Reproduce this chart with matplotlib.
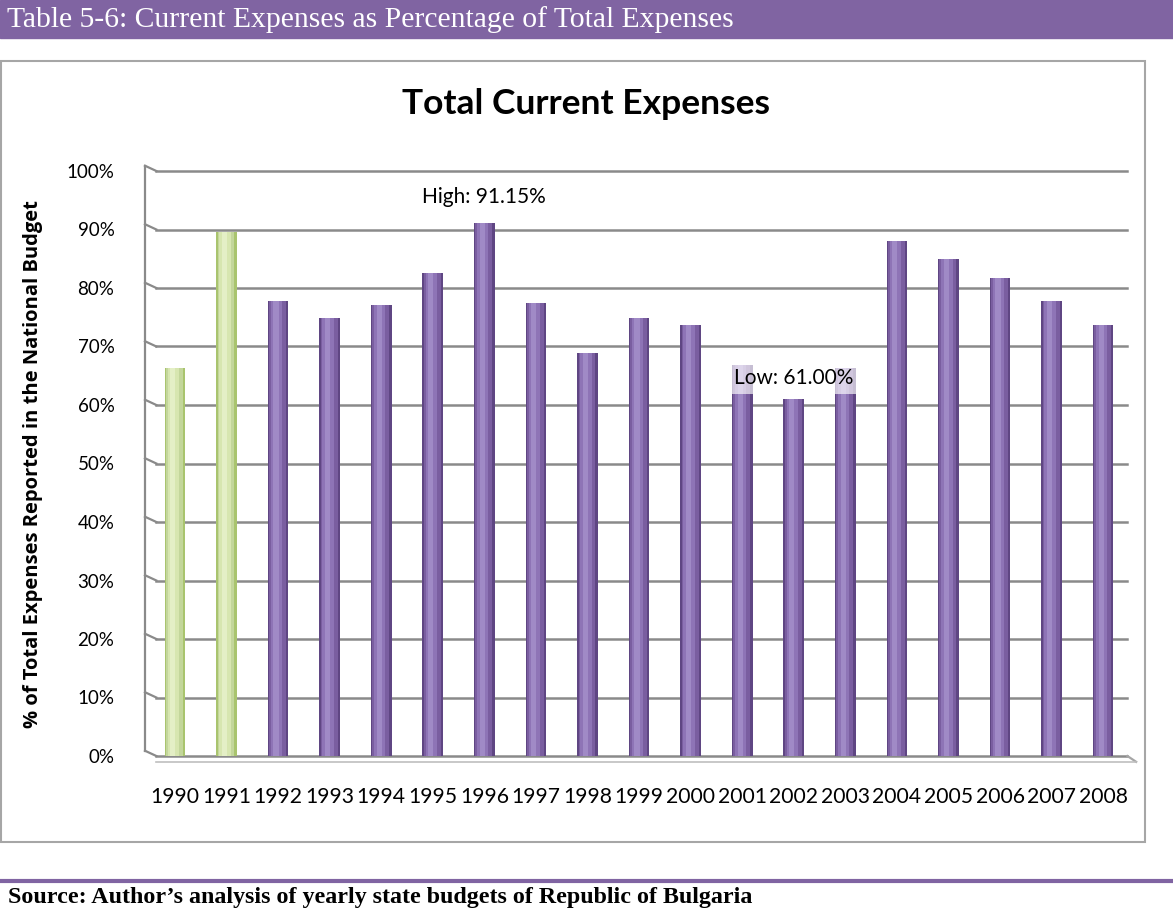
import matplotlib
matplotlib.use("Agg")
import matplotlib.pyplot as plt
from matplotlib.patches import Rectangle
from matplotlib.lines import Line2D

# data
years = ["1990", "1991", "1992", "1993", "1994", "1995", "1996", "1997", "1998", "1999",
         "2000", "2001", "2002", "2003", "2004", "2005", "2006", "2007", "2008"]
values = [66.3, 89.5, 77.7, 74.8, 77.1, 82.6, 91.15, 77.4, 68.9, 74.8,
          73.7, 66.9, 61.0, 66.3, 88.0, 84.9, 81.7, 77.8, 73.7]
green_years = ["1990", "1991"]
yticks = [0, 10, 20, 30, 40, 50, 60, 70, 80, 90, 100]

W, H = 1173, 918
purple = "#8064A2"
grid_c = "#8A8A8A"

def fx(px):
    return px / W

def fy(py):
    return 1 - py / H

fig = plt.figure(figsize=(W / 100, H / 100), dpi=100)

# header band
fig.patches.append(Rectangle((0, fy(38)), 1, 38 / H, transform=fig.transFigure,
                             color=purple, zorder=0))
fig.text(fx(7), fy(20), "Table 5-6: Current Expenses as Percentage of Total Expenses",
         color="white", fontsize=21.3, family="Liberation Serif", va="center", ha="left")

# chart frame
fig.patches.append(Rectangle((fx(1), fy(842)), fx(1144), (842 - 61) / H,
                             transform=fig.transFigure, fill=False,
                             edgecolor="#A6A6A6", linewidth=1.5, zorder=0))

# bottom rule + source line
fig.lines.append(Line2D([0, 1], [fy(881), fy(881)], transform=fig.transFigure,
                        color=purple, linewidth=3))
fig.text(fx(8), fy(898), "Source: Author\u2019s analysis of yearly state budgets of Republic of Bulgaria",
         fontsize=17.3, family="Liberation Serif", weight="bold", va="center", ha="left")

ax = fig.add_axes([fx(145), fy(756), fx(1130) - fx(145), (756 - 171) / H])
x = list(range(len(years)))
x0, x1 = -0.58, 18.52
ax.set_xlim(x0, x1)
ax.set_ylim(0, 100)

# back wall gridlines with a small slanted end like the 3D wall
dx = 0.22
for t in yticks:
    ax.plot([x0, x0 + dx], [t + 0.9, t], color=grid_c, lw=1.6, zorder=1, clip_on=False)
    ax.plot([x0 + dx, x1 - 0.05], [t, t], color=grid_c, lw=1.8, zorder=1, clip_on=False)
ax.plot([x0, x0], [0.9, 100.9], color=grid_c, lw=1.6, zorder=1, clip_on=False)
ax.plot([x1 - 0.05, x1 + 0.12], [0, -1.0], color="#A6A6A6", lw=1.6, zorder=1, clip_on=False)
ax.plot([x0 + dx, x1 + 0.12], [-1.0, -1.0], color="#BFBFBF", lw=1.2, zorder=1, clip_on=False)

# cylinder-ish bars: base plus lighter stripes
width = 0.4
for i, (yr, v) in enumerate(zip(years, values)):
    if yr in green_years:
        cols = ["#A9C46E", "#C3D69B", "#D7E6B0", "#E4EFC6"]
    else:
        cols = ["#5F4683", "#7A5EA0", "#8E74B6", "#A08AC6"]
    ax.bar(i, v, width=width, color=cols[0], zorder=2)
    ax.bar(i - 0.01, v, width=width * 0.82, color=cols[1], zorder=3)
    ax.bar(i - 0.03, v, width=width * 0.55, color=cols[2], zorder=4)
    ax.bar(i - 0.04, v, width=width * 0.25, color=cols[3], zorder=5)

for s in ax.spines.values():
    s.set_visible(False)
ax.set_yticks(yticks)
ax.set_yticklabels([f"{t}%" for t in yticks], fontsize=13.5, family="Lato")
ax.set_xticks(x)
ax.set_xticklabels(years, fontsize=15.2, family="Lato")
ax.tick_params(axis="both", length=0)
ax.tick_params(axis="y", pad=22)
ax.tick_params(axis="x", pad=22)
ax.set_facecolor("none")

fig.text(fx(33), fy(464), "% of Total Expenses Reported in the National Budget", fontsize=14.5,
         family="Open Sans", weight="bold", rotation=90, ha="center", va="center")

fig.text(fx(586), fy(104), "Total Current Expenses", fontsize=25.5, family="Lato",
         weight="bold", ha="center", va="center")

# high / low call-outs
hi = values.index(max(values))
lo = values.index(min(values))
ax.text(hi, 95.5, f"High: {values[hi]:.2f}%", fontsize=15, family="Lato",
        ha="center", va="center", zorder=6)
ax.text(lo, 64.6, f"Low: {values[lo]:.2f}%", fontsize=15, family="Lato",
        ha="center", va="center", zorder=6,
        bbox=dict(boxstyle="square,pad=0.3", facecolor="white", alpha=0.65, edgecolor="none"))

fig.savefig("out.png", dpi=100)
